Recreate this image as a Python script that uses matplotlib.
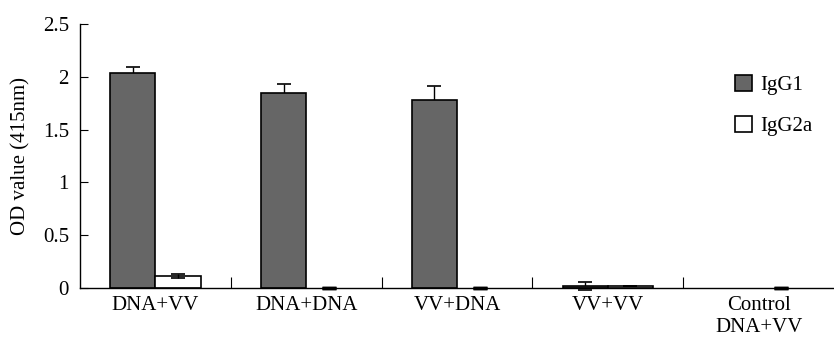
import numpy as np
import matplotlib.pyplot as plt

plt.rcParams['font.family'] = ['Liberation Serif', 'DejaVu Serif']

# datos
grupos = ["DNA+VV", "DNA+DNA", "VV+DNA", "VV+VV", "Control\nDNA+VV"]
igg1 = np.array([2.04, 1.85, 1.78, 0.02, 0.0])
igg1_err = np.array([0.05, 0.08, 0.13, 0.035, 0.0])
igg2a = np.array([0.11, 0.0, 0.0, 0.02, 0.0])
igg2a_err = np.array([0.02, 0.0, 0.0, 0.0, 0.0])

x = np.arange(len(grupos))
w = 0.3

fig = plt.figure(figsize=(8.34, 3.38), dpi=100)
ax = fig.add_axes([80 / 834, 50 / 338, 754 / 834, 264 / 338])

# barras IgG1 (error por debajo de la barra)
m1 = igg1 > 0
eb1 = ax.errorbar(x[m1] - w / 2, igg1[m1], yerr=igg1_err[m1], fmt="none",
                  ecolor="black", elinewidth=1, capsize=5, capthick=1.2,
                  zorder=1)
for c in eb1[1]:
    c.set_clip_on(False)
ax.bar(x - w / 2, igg1, w, color="#666666", edgecolor="black",
       linewidth=[1.2 if v > 0 else 0 for v in igg1], label="IgG1", zorder=2)

# barras IgG2a
m2 = igg2a > 0
ax.bar(x + w / 2, igg2a, w, color="white", edgecolor="black",
       linewidth=[1.2 if v > 0 else 0 for v in igg2a], label="IgG2a", zorder=2)
eb2 = ax.errorbar(x[m2] + w / 2, igg2a[m2], yerr=igg2a_err[m2], fmt="none",
                  ecolor="black", elinewidth=1, capsize=5, capthick=1.2,
                  zorder=3)
# valores cero: solo el tope del error
cero = ~m2
eb3 = ax.errorbar(x[cero] + w / 2, igg2a[cero], yerr=igg2a_err[cero],
                  fmt="none", ecolor="black", elinewidth=1, capsize=5,
                  capthick=2.5, zorder=3)
for c in list(eb2[1]) + list(eb3[1]):
    c.set_clip_on(False)

ax.set_xlim(-0.5, len(grupos) - 0.5)
ax.set_ylim(0, 2.5)
ax.set_yticks([0, 0.5, 1, 1.5, 2, 2.5])
ax.set_yticklabels(["0", "0.5", "1", "1.5", "2", "2.5"])
ax.tick_params(axis="y", direction="in", length=6, labelsize=15, pad=8)

# marcas del eje x entre grupos
ax.set_xticks(np.arange(0.5, len(grupos) - 1, 1))
ax.set_xticklabels([])
ax.set_xticks(x, minor=True)
ax.set_xticklabels(grupos, minor=True, fontsize=15, linespacing=1.2)
ax.tick_params(axis="x", which="major", direction="in", length=8)
ax.tick_params(axis="x", which="minor", length=0, pad=6)

for s in ["top", "right"]:
    ax.spines[s].set_visible(False)
ax.spines["left"].set_linewidth(1)
ax.spines["bottom"].set_linewidth(1)

ax.set_ylabel("OD value (415nm)", fontsize=15, labelpad=9)

ax.legend(loc="upper left", bbox_to_anchor=(0.869, 0.807), frameon=False,
          fontsize=15, handlelength=0.8, handleheight=0.8,
          handletextpad=0.4, labelspacing=1.0, borderpad=0,
          borderaxespad=0)

fig.savefig("out.png", dpi=100)
